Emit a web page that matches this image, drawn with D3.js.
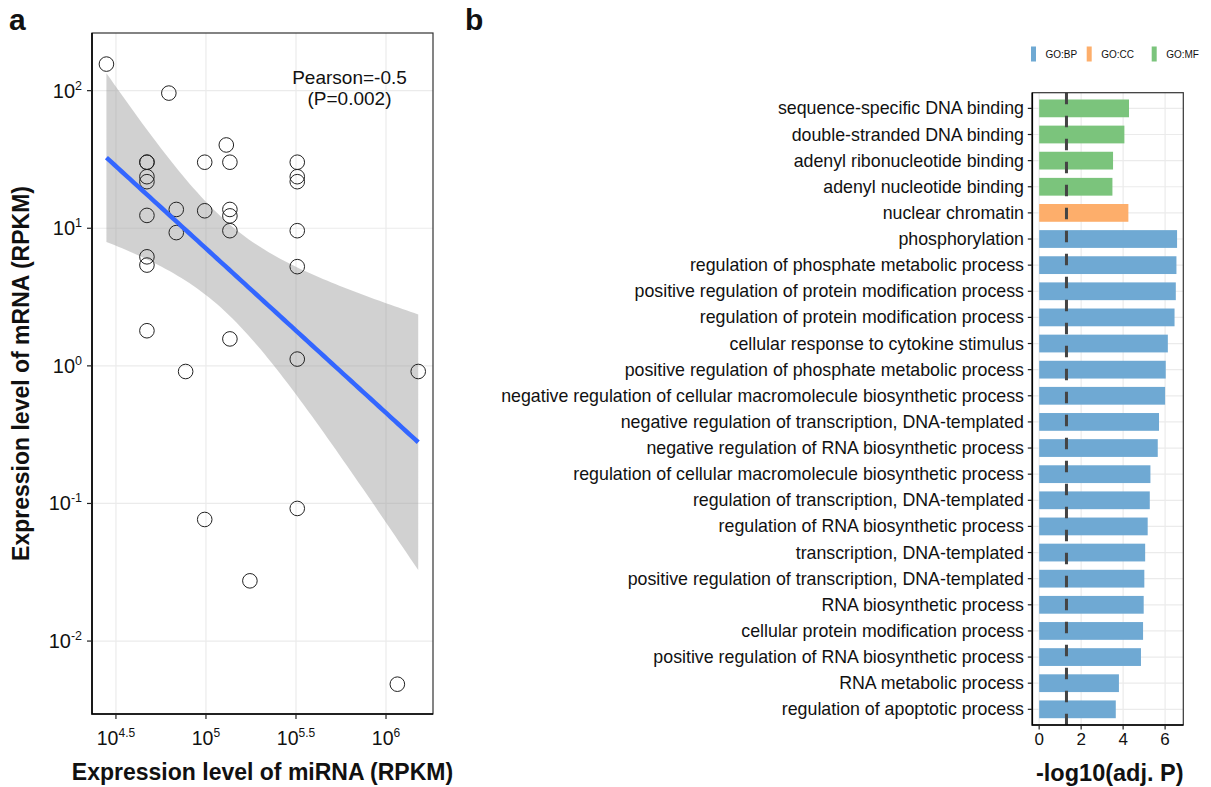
<!DOCTYPE html>
<html><head><meta charset="utf-8">
<script src="https://cdn.jsdelivr.net/npm/d3@7"></script>
<style>
body{margin:0;background:#fff}
text{font-family:"Liberation Sans",Arial,Helvetica,sans-serif;fill:#111}
</style>
</head><body>
<svg id="c" width="1211" height="787"></svg>
<script>
// ---------- Panel a data ----------
const mirnaRPKM = [28000, 62200, 47000, 47000, 47000, 47000, 47000, 47000, 47000, 47000,
  68400, 68400, 77100, 98400, 98400, 129700, 135800, 135800, 135800, 135800, 135800,
  321400, 321400, 321400, 321400, 321400, 321400, 1510000, 98400, 321400, 175400, 1156000];
const mrnaRPKM = [156, 96, 30.2, 30.2, 23.7, 21.8, 12.4, 6.2, 5.4, 1.8,
  13.7, 9.3, 0.91, 30.2, 13.4, 40.3, 30.2, 13.7, 12.3, 9.6, 1.57,
  30.2, 23.7, 21.8, 9.6, 5.26, 1.12, 0.91, 0.0765, 0.092, 0.0274, 0.00486];
const xTickExps = [4.5, 5, 5.5, 6];
const xTickSup = ["4.5", "5", "5.5", "6"];
const yTickExps = [-2, -1, 0, 1, 2];
const yTickSup = ["-2", "-1", "0", "1", "2"];
const statLines = ["Pearson=-0.5", "(P=0.002)"];

// ---------- Panel b data ----------
const goTerms = [
  "sequence-specific DNA binding",
  "double-stranded DNA binding",
  "adenyl ribonucleotide binding",
  "adenyl nucleotide binding",
  "nuclear chromatin",
  "phosphorylation",
  "regulation of phosphate metabolic process",
  "positive regulation of protein modification process",
  "regulation of protein modification process",
  "cellular response to cytokine stimulus",
  "positive regulation of phosphate metabolic process",
  "negative regulation of cellular macromolecule biosynthetic process",
  "negative regulation of transcription, DNA-templated",
  "negative regulation of RNA biosynthetic process",
  "regulation of cellular macromolecule biosynthetic process",
  "regulation of transcription, DNA-templated",
  "regulation of RNA biosynthetic process",
  "transcription, DNA-templated",
  "positive regulation of transcription, DNA-templated",
  "RNA biosynthetic process",
  "cellular protein modification process",
  "positive regulation of RNA biosynthetic process",
  "RNA metabolic process",
  "regulation of apoptotic process"
];
const goScores = [4.28, 4.06, 3.52, 3.49, 4.25, 6.57, 6.54, 6.51, 6.45, 6.13, 6.03,
  6.00, 5.71, 5.65, 5.30, 5.27, 5.17, 5.05, 5.01, 4.98, 4.95, 4.85, 3.80, 3.65];
const goSource = ["GO:MF","GO:MF","GO:MF","GO:MF","GO:CC",
  "GO:BP","GO:BP","GO:BP","GO:BP","GO:BP","GO:BP","GO:BP","GO:BP","GO:BP","GO:BP",
  "GO:BP","GO:BP","GO:BP","GO:BP","GO:BP","GO:BP","GO:BP","GO:BP","GO:BP"];
const sourceKeys = ["GO:BP", "GO:CC", "GO:MF"];
const sourceColors = ["#6fa9d3", "#fdae6b", "#7bc47c"];
const xTicksB = [0, 2, 4, 6];
const threshold = -Math.log10(0.05);

const svg = d3.select("#c");

// ================= Panel a =================
const A = {x0: 92, x1: 433, y0: 33, y1: 714};
const xA = d3.scaleLog().domain([Math.pow(10, 4.367), Math.pow(10, 6.261)]).range([A.x0, A.x1]);
const yA = d3.scaleLog().domain([Math.pow(10, -2.53), Math.pow(10, 2.419)]).range([A.y1, A.y0]);

const ga = svg.append("g");
// grid
ga.selectAll("line.gx").data(xTickExps).join("line")
  .attr("x1", d => xA(Math.pow(10, d))).attr("x2", d => xA(Math.pow(10, d)))
  .attr("y1", A.y0).attr("y2", A.y1).attr("stroke", "#ebebeb").attr("stroke-width", 1.2);
ga.selectAll("line.gy").data(yTickExps).join("line")
  .attr("y1", d => yA(Math.pow(10, d))).attr("y2", d => yA(Math.pow(10, d)))
  .attr("x1", A.x0).attr("x2", A.x1).attr("stroke", "#ebebeb").attr("stroke-width", 1.2);

// regression in log-log space
const pts = mirnaRPKM.map((m, i) => ({x: m, y: mrnaRPKM[i], lx: Math.log10(m), ly: Math.log10(mrnaRPKM[i])}));
const n = pts.length;
const mx = d3.mean(pts, d => d.lx), my = d3.mean(pts, d => d.ly);
const sxx = d3.sum(pts, d => (d.lx - mx) ** 2);
const sxy = d3.sum(pts, d => (d.lx - mx) * (d.ly - my));
const slope = sxy / sxx, icpt = my - slope * mx;
const sse = d3.sum(pts, d => (d.ly - (icpt + slope * d.lx)) ** 2);
const s = Math.sqrt(sse / (n - 2));
const df = n - 2, z = 1.959964;
const tq = z + (z ** 3 + z) / (4 * df) + (5 * z ** 5 + 16 * z ** 3 + 3 * z) / (96 * df * df);
const lxMin = d3.min(pts, d => d.lx), lxMax = d3.max(pts, d => d.lx);
const grid = d3.range(80).map(i => lxMin + (lxMax - lxMin) * i / 79);
const band = grid.map(lx => {
  const fit = icpt + slope * lx;
  const se = s * Math.sqrt(1 / n + (lx - mx) ** 2 / sxx);
  return {lx, fit, lo: fit - tq * se, hi: fit + tq * se};
});
ga.append("path").datum(band)
  .attr("d", d3.area().x(d => xA(Math.pow(10, d.lx))).y0(d => yA(Math.pow(10, d.lo))).y1(d => yA(Math.pow(10, d.hi))))
  .attr("fill", "#999").attr("fill-opacity", 0.45);

// points
ga.selectAll("circle").data(pts).join("circle")
  .attr("cx", d => xA(d.x)).attr("cy", d => yA(d.y)).attr("r", 7.3)
  .attr("fill", "none").attr("stroke", "#222").attr("stroke-width", 1);

// fit line
ga.append("path").datum(band)
  .attr("d", d3.line().x(d => xA(Math.pow(10, d.lx))).y(d => yA(Math.pow(10, d.fit))))
  .attr("fill", "none").attr("stroke", "#3366FF").attr("stroke-width", 4.5);

// border
ga.append("rect").attr("x", A.x0).attr("y", A.y0).attr("width", A.x1 - A.x0).attr("height", A.y1 - A.y0)
  .attr("fill", "none").attr("stroke", "#333").attr("stroke-width", 1.2);
ga.append("path").attr("d", `M${A.x0},${A.y0}V${A.y1}H${A.x1}`).attr("fill", "none").attr("stroke", "#000").attr("stroke-width", 1.6);

// x ticks
xTickExps.forEach((e, i) => {
  const x = xA(Math.pow(10, e));
  ga.append("line").attr("x1", x).attr("x2", x).attr("y1", A.y1).attr("y2", A.y1 + 5).attr("stroke", "#222").attr("stroke-width", 1.2);
  const t = ga.append("text").attr("x", x).attr("y", 745).attr("text-anchor", "middle").attr("font-size", 19.5);
  t.append("tspan").text("10");
  t.append("tspan").attr("dy", -8).attr("font-size", 12).text(xTickSup[i]);
});
// y ticks
yTickExps.forEach((e, i) => {
  const y = yA(Math.pow(10, e));
  ga.append("line").attr("x1", A.x0 - 5).attr("x2", A.x0).attr("y1", y).attr("y2", y).attr("stroke", "#222").attr("stroke-width", 1.2);
  const t = ga.append("text").attr("x", 82).attr("y", y + 7).attr("text-anchor", "end").attr("font-size", 20);
  t.append("tspan").text("10");
  t.append("tspan").attr("dy", -8).attr("font-size", 12.5).text(yTickSup[i]);
});

// stat text
statLines.forEach((s2, i) => {
  ga.append("text").attr("x", 349.5).attr("y", 83.5 + i * 21).attr("text-anchor", "middle").attr("font-size", 19).text(s2);
});

// titles
ga.append("text").attr("x", (A.x0 + A.x1) / 2).attr("y", 780).attr("text-anchor", "middle")
  .attr("font-size", 23).attr("font-weight", "bold").text("Expression level of miRNA (RPKM)");
ga.append("text").attr("transform", `translate(29,${(A.y0 + A.y1) / 2}) rotate(-90)`).attr("text-anchor", "middle")
  .attr("font-size", 23).attr("font-weight", "bold").text("Expression level of mRNA (RPKM)");
ga.append("text").attr("x", 9).attr("y", 30).attr("font-size", 30).attr("font-weight", "bold").text("a");

// ================= Panel b =================
const B = {x0: 1032.3, x1: 1183.3, y0: 92.7, y1: 725};
const xB = d3.scaleLinear().domain([-0.327, 6.867]).range([B.x0, B.x1]);
const yB = d3.scalePoint().domain(goTerms).range([B.y0, B.y1]).padding(0.6);
const barH = yB.step() * 0.68;
const color = d3.scaleOrdinal().domain(sourceKeys).range(sourceColors);
const gb = svg.append("g");

gb.selectAll("line.gx").data(xTicksB).join("line")
  .attr("x1", d => xB(d)).attr("x2", d => xB(d)).attr("y1", B.y0).attr("y2", B.y1)
  .attr("stroke", "#ebebeb").attr("stroke-width", 1.2);
gb.selectAll("line.gy").data(goTerms).join("line")
  .attr("y1", d => yB(d)).attr("y2", d => yB(d)).attr("x1", B.x0).attr("x2", B.x1)
  .attr("stroke", "#ebebeb").attr("stroke-width", 1.2);

gb.selectAll("rect.bar").data(goTerms).join("rect")
  .attr("x", xB(0)).attr("y", d => yB(d) - barH / 2)
  .attr("width", (d, i) => xB(goScores[i]) - xB(0)).attr("height", barH)
  .attr("fill", (d, i) => color(goSource[i]));

gb.append("line").attr("x1", xB(threshold)).attr("x2", xB(threshold)).attr("y1", B.y0).attr("y2", B.y1)
  .attr("stroke", "#444").attr("stroke-width", 3).attr("stroke-dasharray", "11.5,11.5");

gb.append("rect").attr("x", B.x0).attr("y", B.y0).attr("width", B.x1 - B.x0).attr("height", B.y1 - B.y0)
  .attr("fill", "none").attr("stroke", "#333").attr("stroke-width", 1.2);
gb.append("path").attr("d", `M${B.x0},${B.y0}V${B.y1}H${B.x1}`).attr("fill", "none").attr("stroke", "#000").attr("stroke-width", 1.6);

goTerms.forEach(t => {
  const y = yB(t);
  gb.append("line").attr("x1", B.x0 - 4.5).attr("x2", B.x0).attr("y1", y).attr("y2", y).attr("stroke", "#222").attr("stroke-width", 1.2);
  gb.append("text").attr("x", 1024).attr("y", y + 6).attr("text-anchor", "end").attr("font-size", 17.8).text(t);
});
xTicksB.forEach(v => {
  gb.append("line").attr("x1", xB(v)).attr("x2", xB(v)).attr("y1", B.y1).attr("y2", B.y1 + 4.5).attr("stroke", "#222").attr("stroke-width", 1.2);
  gb.append("text").attr("x", xB(v)).attr("y", 745).attr("text-anchor", "middle").attr("font-size", 17).text(v);
});
gb.append("text").attr("x", (B.x0 + B.x1) / 2 + 2).attr("y", 781).attr("text-anchor", "middle")
  .attr("font-size", 23.5).attr("font-weight", "bold").text("-log10(adj. P)");
gb.append("text").attr("x", 465).attr("y", 30).attr("font-size", 30).attr("font-weight", "bold").text("b");

// legend
const legX = [1031, 1086.7, 1151.7];
sourceKeys.forEach((k, i) => {
  gb.append("rect").attr("x", legX[i]).attr("y", 46.5).attr("width", 5).attr("height", 15).attr("fill", sourceColors[i]);
  gb.append("text").attr("x", legX[i] + 14.5).attr("y", 57.5).attr("font-size", 10).text(k);
});
</script>
</body></html>
